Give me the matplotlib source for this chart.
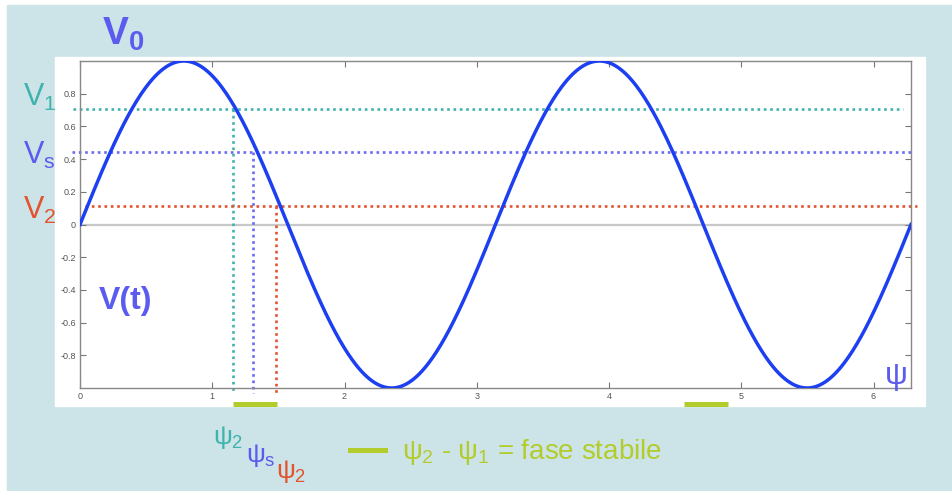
import numpy as np
import matplotlib
matplotlib.use("Agg")
import matplotlib.pyplot as plt
from matplotlib.patches import Rectangle

plt.rcParams['font.family'] = ['Liberation Sans', 'DejaVu Sans']
plt.rcParams['mathtext.fontset'] = 'custom'
plt.rcParams['mathtext.rm'] = 'Liberation Sans'
plt.rcParams['mathtext.it'] = 'Liberation Sans'
plt.rcParams['mathtext.bf'] = 'Liberation Sans:bold'

# --- data -------------------------------------------------------------
# the drawn curve is V(psi) = A * sin(k * psi), psi in [0, 2*pi]
amplitude = 1.0
k = 2
psi_max = 2 * np.pi

# threshold levels (V1, Vs, V2) and where they cross the falling edge
level_names = ['V1', 'Vs', 'V2']
level_values = [0.705, 0.445, 0.115]
level_cross = [1.16, 1.31, 1.48]
level_x_start = [-0.05, -0.06, 0.04]
level_x_end = [6.22, 6.28, 6.33]

# stable-phase bars under the axis
stable_starts = [1.16, 4.57]
stable_ends = [1.49, 4.90]

xticks = [0, 1, 2, 3, 4, 5, 6]
yticks = [-0.8, -0.6, -0.4, -0.2, 0, 0.2, 0.4, 0.6, 0.8]

# --- colours ----------------------------------------------------------
bg = '#cce4e8'
teal = '#3fb3ad'
blue_txt = '#5b5bef'
blue_dot = '#6a6af5'
red = '#e2532e'
green = '#b3cc2b'
curve = '#1c3ff2'

fig = plt.figure(figsize=(9.52, 4.91), dpi=100)
fig.patch.set_facecolor('white')
W, H = 952, 491


def fx(px):
    return px / W


def fy(py):
    return 1 - py / H


fig.patches.append(Rectangle((fx(7), fy(490)), fx(945), 485 / H,
                             transform=fig.transFigure, color=bg, zorder=-2))
fig.patches.append(Rectangle((fx(55), fy(406)), fx(870), 349 / H,
                             transform=fig.transFigure, color='white', zorder=-1))

ax = fig.add_axes([fx(80), fy(388), fx(831), 327 / H])
ax.set_facecolor('white')

psi = np.linspace(0, psi_max, 600)
v = amplitude * np.sin(k * psi)

ax.plot([0, psi_max], [0, 0], color='#c8c8c8', lw=1.6, zorder=1)

colors = [teal, blue_dot, red]
dots = (0, (1, 1.4))
for val, cx, xs, xe, c in zip(level_values, level_cross, level_x_start, level_x_end, colors):
    ax.plot([xs, xe], [val, val], color=c, lw=1.9, ls=dots,
            clip_on=False, zorder=2)
    ax.plot([cx, cx], [val, -1.03], color=c, lw=1.9, ls=dots,
            clip_on=False, zorder=2)

ax.plot(psi, v, color=curve, lw=2.5, zorder=3)

for s, e in zip(stable_starts, stable_ends):
    ax.plot([s, e], [-1.097, -1.097], color=green, lw=3.6,
            solid_capstyle='butt', clip_on=False)

ax.set_xlim(0, psi_max)
ax.set_ylim(-1, 1)
ax.set_xticks(xticks)
ax.set_yticks(yticks)
ax.set_xticklabels([str(t) for t in xticks])
ax.set_yticklabels(['0' if t == 0 else f'{t:.1f}' for t in yticks])
ax.tick_params(direction='in', top=True, right=True, length=4, width=0.8,
               color='#777777', labelsize=6.5, labelcolor='#555555', pad=3)
for sp in ax.spines.values():
    sp.set_color('#888888')
    sp.set_linewidth(1.0)

# --- annotations ------------------------------------------------------
fig.text(fx(102), fy(45), r'$\mathbf{V_0}$', color=blue_txt, fontsize=28)
fig.text(fx(23), fy(106), r'V$_1$', color=teal, fontsize=22)
fig.text(fx(23), fy(164), r'V$_\mathrm{s}$', color=blue_txt, fontsize=22)
fig.text(fx(23), fy(219), r'V$_2$', color=red, fontsize=22)
fig.text(fx(99), fy(309), 'V(t)', color=blue_txt, fontsize=23, fontweight='bold')
fig.text(fx(884), fy(384), r'$\psi$', color=blue_txt, fontsize=23)

fig.text(fx(213), fy(444), r'$\psi_2$', color=teal, fontsize=19)
fig.text(fx(246), fy(462), r'$\psi_\mathrm{s}$', color=blue_txt, fontsize=19)
fig.text(fx(276), fy(478), r'$\psi_2$', color=red, fontsize=19)

fig.lines.append(plt.Line2D([fx(350), fx(385)], [fy(450), fy(450)],
                            transform=fig.transFigure, color=green, lw=3.6))
fig.text(fx(402), fy(459), r'$\psi_2$ - $\psi_1$ = fase stabile',
         color=green, fontsize=20)

fig.savefig('out.png', dpi=100)
